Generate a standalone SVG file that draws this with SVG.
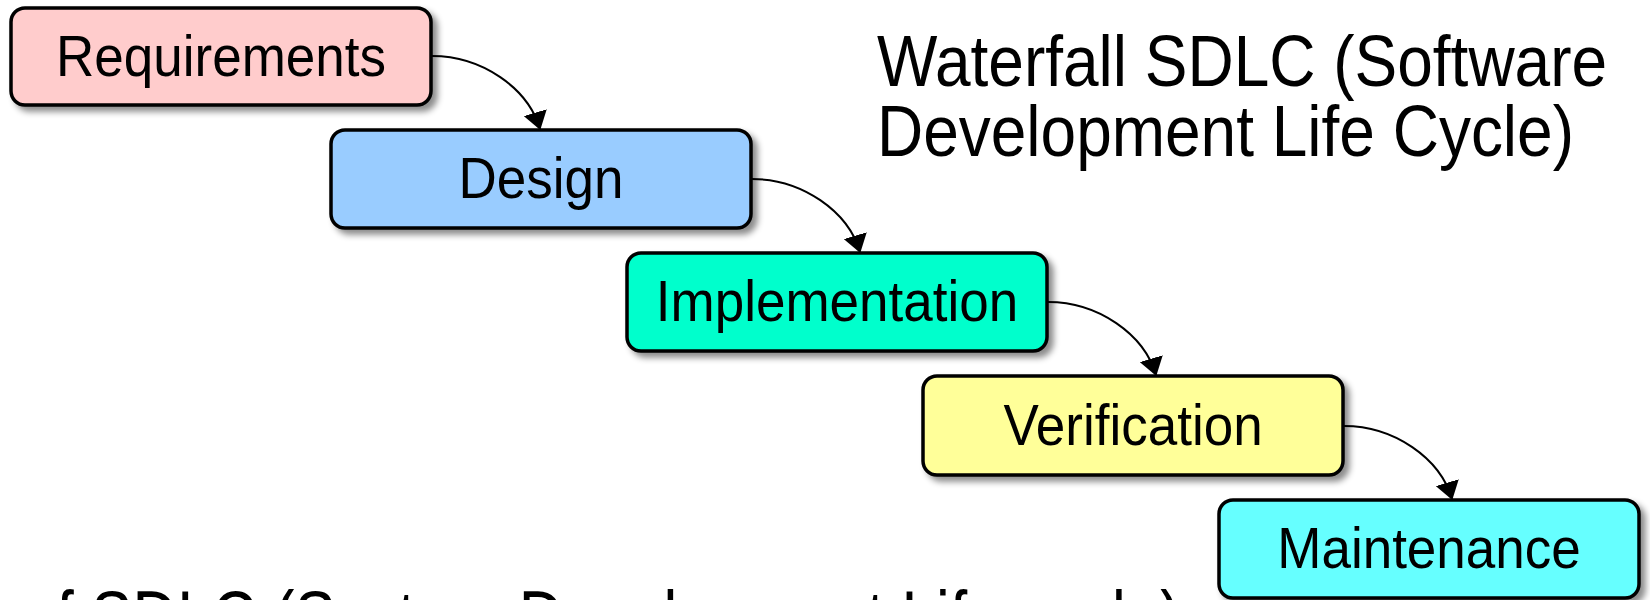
<svg xmlns="http://www.w3.org/2000/svg" width="1650" height="600" viewBox="0 0 1650 600">
<defs>
<filter id="shadow" x="-10%" y="-20%" width="130%" height="150%">
<feDropShadow dx="5" dy="5" stdDeviation="3" flood-color="#000" flood-opacity="0.45"/>
</filter>
<marker id="arrow" markerUnits="userSpaceOnUse" markerWidth="18" markerHeight="24" refX="17" refY="12" orient="auto" viewBox="0 0 18 24">
<path d="M0,0 L18,12 L0,24 Z" fill="#000"/>
</marker>
</defs>
<style>
.box{stroke:#000;stroke-width:3.5;filter:url(#shadow)}
.lbl{font-family:"Liberation Sans",Arial,sans-serif;font-size:53px;fill:#000;text-anchor:middle}
.title{font-family:"Liberation Sans",Arial,sans-serif;font-size:64px;fill:#000}
.conn{fill:none;stroke:#000;stroke-width:2}
</style>
<rect width="1650" height="600" fill="#fff"/>
<g id="title">
<text class="title" transform="translate(877,86) scale(1,1.13)">Waterfall SDLC (Software</text>
<text class="title" transform="translate(877,156) scale(1,1.13)">Development Life Cycle)</text>
</g>
<g id="footer">
<text class="title" transform="translate(22,644) scale(0.97,1.2)">of SDLC (System Development Life cycle)</text>
</g>
<g id="connectors">
<path class="conn" d="M432,56 C482,56 528,88 540,129" marker-end="url(#arrow)"/>
<path class="conn" d="M752,179 C802,179 848,211 860,252" marker-end="url(#arrow)"/>
<path class="conn" d="M1048,302 C1098,302 1144,334 1156,375" marker-end="url(#arrow)"/>
<path class="conn" d="M1344,426 C1394,426 1440,458 1452,499" marker-end="url(#arrow)"/>
</g>
<g id="requirements">
<rect class="box" x="11" y="8" width="420" height="97" rx="14" fill="#FFCCCC"/>
<text class="lbl" transform="translate(221,76) scale(1,1.07)">Requirements</text>
</g>
<g id="design">
<rect class="box" x="331" y="130" width="420" height="98" rx="14" fill="#99CCFF"/>
<text class="lbl" transform="translate(541,198) scale(1,1.07)">Design</text>
</g>
<g id="implementation">
<rect class="box" x="627" y="253" width="420" height="98" rx="14" fill="#00FFCC"/>
<text class="lbl" transform="translate(837,321) scale(1,1.07)">Implementation</text>
</g>
<g id="verification">
<rect class="box" x="923" y="376" width="420" height="99" rx="14" fill="#FFFF99"/>
<text class="lbl" transform="translate(1133,445) scale(1,1.07)">Verification</text>
</g>
<g id="maintenance">
<rect class="box" x="1219" y="500" width="420" height="98" rx="14" fill="#66FFFF"/>
<text class="lbl" transform="translate(1429,568) scale(1,1.07)">Maintenance</text>
</g>
</svg>
